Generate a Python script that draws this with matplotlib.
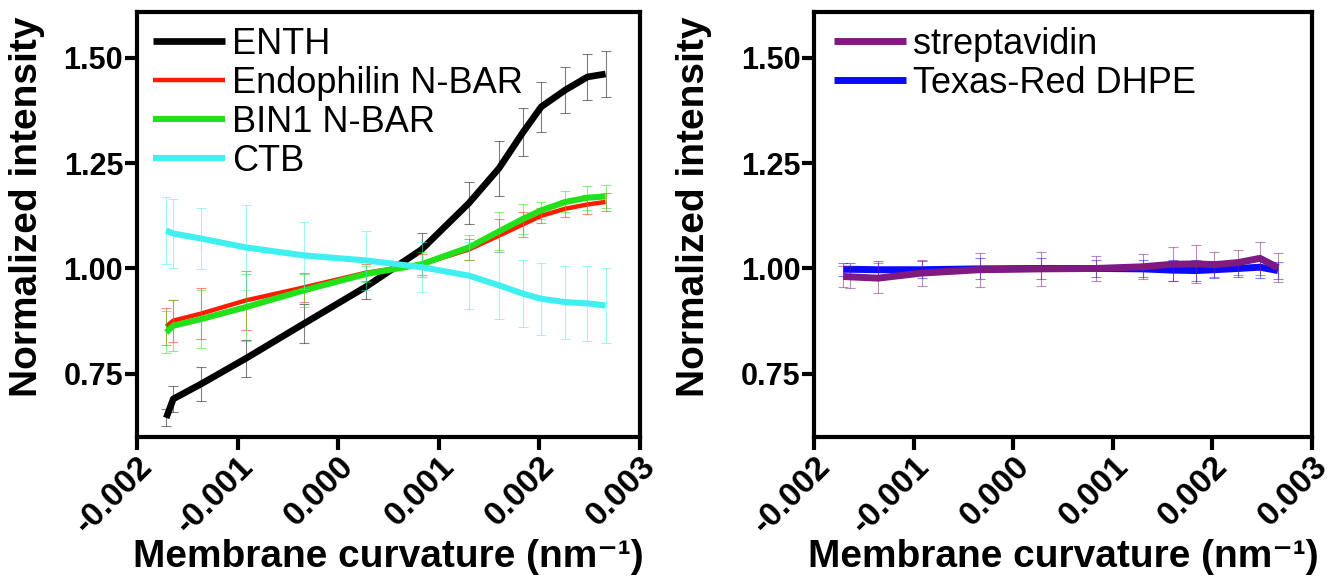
import matplotlib
matplotlib.use("Agg")
import matplotlib.pyplot as plt

plt.rcParams['font.family'] = ['Liberation Sans', 'DejaVu Sans']

# membrane curvature (nm^-1), same sampling for all curves
curvature = [-0.00171, -0.00164, -0.00136, -0.00092, -0.00034, 0.00028, 0.00083,
             0.00130, 0.00160, 0.00184, 0.00202, 0.00226, 0.00248, 0.00266]

# left panel
enth = [0.645, 0.69, 0.726, 0.786, 0.869, 0.957, 1.045, 1.155, 1.238, 1.324, 1.384, 1.424, 1.455, 1.462]
enth_err = [0.02, 0.03, 0.04, 0.044, 0.046, 0.03, 0.04, 0.05, 0.065, 0.057, 0.06, 0.054, 0.055, 0.054]
endo = [0.862, 0.876, 0.893, 0.924, 0.955, 0.99, 1.01, 1.045, 1.078, 1.105, 1.125, 1.142, 1.152, 1.158]
endo_err = [0.045, 0.05, 0.06, 0.07, 0.035, 0.02, 0.025, 0.025, 0.04, 0.03, 0.018, 0.02, 0.022, 0.022]
bin1 = [0.848, 0.864, 0.88, 0.908, 0.948, 0.987, 1.01, 1.05, 1.088, 1.118, 1.138, 1.158, 1.168, 1.171]
bin1_err = [0.05, 0.06, 0.07, 0.08, 0.04, 0.02, 0.03, 0.03, 0.045, 0.035, 0.02, 0.025, 0.028, 0.028]
ctb = [1.09, 1.083, 1.071, 1.05, 1.031, 1.019, 1.003, 0.983, 0.96, 0.94, 0.928, 0.92, 0.917, 0.912]
ctb_err = [0.08, 0.083, 0.073, 0.1, 0.08, 0.07, 0.06, 0.08, 0.08, 0.08, 0.085, 0.087, 0.09, 0.09]

# right panel
strep = [0.981, 0.980, 0.977, 0.989, 0.997, 0.999, 1.0, 1.004, 1.01, 1.011, 1.009, 1.014, 1.024, 1.002]
strep_err = [0.025, 0.027, 0.035, 0.03, 0.04, 0.04, 0.03, 0.03, 0.04, 0.045, 0.03, 0.03, 0.04, 0.035]
texas = [0.998, 0.998, 0.997, 0.997, 0.999, 1.0, 1.0, 0.999, 0.996, 0.995, 0.997, 1.0, 1.003, 0.995]
texas_err = [0.015, 0.015, 0.02, 0.02, 0.025, 0.025, 0.02, 0.02, 0.025, 0.025, 0.02, 0.02, 0.025, 0.02]

xticks = [-0.002, -0.001, 0.000, 0.001, 0.002, 0.003]
xticklabels = ['-0.002', '-0.001', '0.000', '0.001', '0.002', '0.003']
yticks = [0.75, 1.00, 1.25, 1.50]
yticklabels = ['0.75', '1.00', '1.25', '1.50']


def draw_curve(ax, y, err, color, lw, label, z):
    ax.errorbar(curvature, y, yerr=err, fmt='none', ecolor=color, elinewidth=0.8,
                capsize=3.5, capthick=0.8, alpha=0.5, zorder=z)
    ax.plot(curvature, y, color=color, lw=lw, label=label, zorder=z + 0.5,
            solid_capstyle='butt')


def style_axes(ax):
    ax.set_xlim(-0.002, 0.003)
    ax.set_ylim(0.6, 1.61)
    ax.set_xticks(xticks)
    ax.set_xticklabels(xticklabels, fontsize=24, fontweight='bold',
                       rotation=45, ha='right', rotation_mode='anchor')
    ax.set_yticks(yticks)
    ax.set_yticklabels(yticklabels, fontsize=22, fontweight='bold')
    for sp in ax.spines.values():
        sp.set_linewidth(3)
    ax.tick_params(direction='out', length=9, width=3, pad=1)
    ax.set_xlabel('Membrane curvature (nm\u207b\u00b9)', fontsize=28, fontweight='bold')
    ax.set_ylabel('Normalized intensity', fontsize=28, fontweight='bold')
    ax.xaxis.set_label_coords(0.5, -0.24)


def add_legend(ax, x0):
    ax.legend(loc='upper left', bbox_to_anchor=(x0, 0.977), frameon=False, fontsize=26,
              handlelength=2.0, handletextpad=0.2, labelspacing=0.11,
              borderaxespad=0.0, borderpad=0.15)


fig = plt.figure(figsize=(13.44, 5.84), dpi=100)
ax1 = fig.add_axes([0.102, 0.252, 0.374, 0.728])
ax2 = fig.add_axes([0.606, 0.252, 0.370, 0.728])

# Left panel
draw_curve(ax1, enth, enth_err, 'black', 4.8, 'ENTH', 2)
draw_curve(ax1, endo, endo_err, '#ff1a00', 3.2, 'Endophilin N-BAR', 3)
draw_curve(ax1, bin1, bin1_err, '#22e01a', 4.4, 'BIN1 N-BAR', 4)
draw_curve(ax1, ctb, ctb_err, '#40f0f0', 4.4, 'CTB', 5)
style_axes(ax1)
ax1.yaxis.set_label_coords(-0.183, 0.54)
add_legend(ax1, 0.02)

# Right panel
draw_curve(ax2, strep, strep_err, '#7f1a80', 5.0, 'streptavidin', 3)
draw_curve(ax2, texas, texas_err, '#0a0aff', 5.0, 'Texas-Red DHPE', 2)
style_axes(ax2)
ax2.yaxis.set_label_coords(-0.207, 0.54)
add_legend(ax2, 0.028)

fig.savefig('out.png', dpi=100)
